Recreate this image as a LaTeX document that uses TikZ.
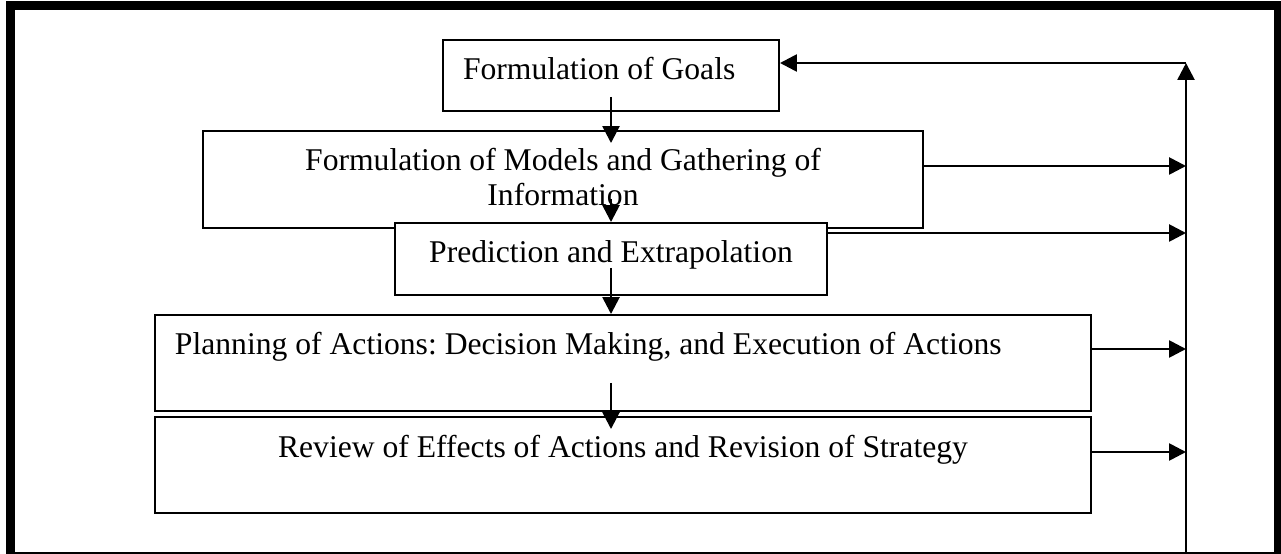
\documentclass[tikz,border=0pt]{standalone}
\usepackage{fontspec}
\setmainfont{Liberation Serif}
\usetikzlibrary{arrows.meta}
\frenchspacing

\tikzstyle{stage} = [rectangle, draw, fill=white, line width=1.1pt,
font=\fontsize{18}{20}\selectfont, align=center, inner xsep=0.4cm, inner ysep=0pt, text height=0.8cm]
\tikzstyle{leftstage} = [stage, align=flush left]
\tikzstyle{arrow} = [line width=1.5pt,-{Triangle[length=0.34cm,width=0.34cm]},draw]

\begin{document}
\begin{tikzpicture}[x=0.2mm,y=-0.2mm]

\clip (0,0) rectangle (1281,554);
\fill[white] (0,0) rectangle (1281,554);

% Outer frame
\draw[line width=1.7mm] (10.5,5.5) rectangle (1278,556);

% Stages, top to bottom
\node[leftstage, text width=5.92cm, text depth=0.62cm](goals) at (611,75.5) {Formulation of Goals};
\node[stage, minimum width=14.4cm, text height=1.5cm, text depth=0.44cm](models) at (563,179.5) {Formulation of Models and Gathering of\\ Information};
\node[stage, minimum width=8.64cm, text depth=0.64cm](predict) at (611,259) {Prediction and Extrapolation};
\node[leftstage, text width=17.92cm, text depth=1.12cm](plan) at (623,363) {Planning of Actions: Decision Making, and Execution of Actions};
\node[stage, minimum width=18.72cm, text depth=1.12cm](review) at (623,465) {Review of Effects of Actions and Revision of Strategy};

% Feedback line on the right
\coordinate (loopbottom) at (1186,556);
\coordinate (looptop) at (1186,63);

% Arrows down the chain
\path[arrow] ([yshift=0.3cm]goals.south) -- ([yshift=-0.26cm]goals.south |- models.north);
\path[arrow] ([yshift=0.6cm]goals.south |- models.south) -- (predict.north);
\path[arrow] ([yshift=0.56cm]predict.south) -- (predict.south |- plan.north);
\path[arrow] ([yshift=0.58cm]goals.south |- plan.south) -- ([yshift=-0.26cm]goals.south |- review.north);

% Arrows into the feedback line
\path[arrow] (loopbottom) -- (looptop);
\path[arrow] (looptop) -- (looptop -| goals.east);
\path[arrow] ([yshift=0.27cm]models.east) -- ([yshift=0.27cm]models.east -| looptop);
\path[arrow] ([yshift=0.52cm]predict.east) -- ([yshift=0.52cm]predict.east -| looptop);
\path[arrow] ([yshift=0.28cm]plan.east) -- ([yshift=0.28cm]plan.east -| looptop);
\path[arrow] ([yshift=0.26cm]review.east) -- ([yshift=0.26cm]review.east -| looptop);

\end{tikzpicture}
\end{document}
